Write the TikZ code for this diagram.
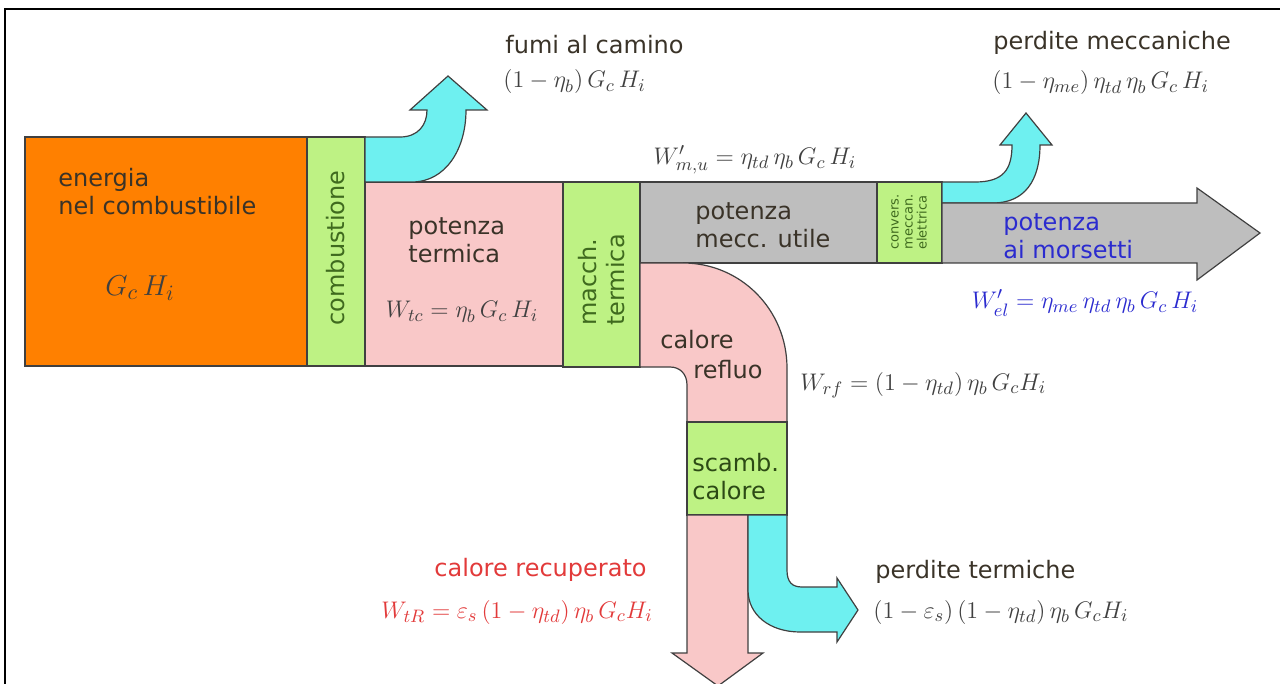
\documentclass[tikz,border=0pt]{standalone}
\usepackage{fontspec}
\setmainfont{DejaVu Sans}
\usepackage{amsmath}
\usetikzlibrary{positioning}

\definecolor{fuel}{HTML}{FF8000}
\definecolor{stage}{HTML}{BEF284}
\definecolor{heat}{HTML}{F9C8C8}
\definecolor{mech}{HTML}{BEBEBE}
\definecolor{loss}{HTML}{6EF0F0}
\definecolor{edge}{HTML}{404040}
\definecolor{txtdark}{HTML}{3A3328}
\definecolor{txtgreen}{HTML}{3F6A1E}
\definecolor{txtblue}{HTML}{2B2BCF}
\definecolor{txtred}{HTML}{E23A3A}

\begin{document}
\begin{tikzpicture}[
    x=0.5pt, y=-0.5pt,
    flow/.style={draw=edge, line width=0.6pt},
    lbl/.style={font=\fontsize{12}{14}\selectfont, text=txtdark, align=left, inner sep=0pt},
    stagelbl/.style={lbl, text=txtgreen},
    eq/.style={font=\fontsize{12.5}{14}\selectfont, text=black!75, inner sep=0pt}
]
    \useasboundingbox (0,0) rectangle (1280,684);
    \draw[line width=1.2pt] (5,684) -- (5,9) -- (1280,9);

    % blocks
    \path[flow, fill=fuel] (25,137) rectangle (307,366);
    \path[flow, fill=stage] (307,137) rectangle (365,366);
    \path[flow, fill=heat] (365,182) rectangle (563,366);
    \path[flow, fill=stage] (563,182) rectangle (640,367);
    \path[flow, fill=mech] (640,182) rectangle (877,263);
    \path[flow, fill=stage] (877,182) rectangle (942,263);

    % fumi
    \path[flow, fill=loss] (365,137) -- (400,137) .. controls (418,137) and (427,125) .. (427,110)
        -- (410,110) -- (448,76) -- (487,110) -- (466,110)
        .. controls (466,150) and (445,182) .. (412,182) -- (365,182) -- cycle;
    % perdite meccaniche
    \path[flow, fill=loss] (942,182) -- (975,182) .. controls (1003,182) and (1012,170) .. (1012,145)
        -- (1000,145) -- (1026,113) -- (1052,145) -- (1040,145)
        .. controls (1040,180) and (1025,203) .. (993,203) -- (942,203) -- cycle;
    % potenza ai morsetti
    \path[flow, fill=mech] (942,203) -- (1197,203) -- (1197,188) -- (1260,233)
        -- (1197,280) -- (1197,263) -- (942,263) -- cycle;
    % calore refluo
    \path[flow, fill=heat] (640,263) -- (683,263) .. controls (741,263) and (787,310) .. (787,368)
        -- (787,422) -- (687,422) -- (687,385) .. controls (687,374) and (680,367) .. (670,367)
        -- (640,367) -- cycle;
    \path[flow, fill=stage] (687,422) rectangle (787,515);
    % calore recuperato
    \path[flow, fill=heat] (687,515) -- (748,515) -- (748,653) -- (763,653) -- (718,686)
        -- (672,653) -- (687,653) -- cycle;
    % perdite termiche
    \path[flow, fill=loss] (748,515) -- (787,515) -- (787,570) .. controls (787,582) and (792,587) .. (802,587)
        -- (837,587) -- (837,578) -- (858,610) -- (837,642) -- (837,632) -- (800,632)
        .. controls (770,632) and (748,615) .. (748,590) -- cycle;

    % labels
    \node[lbl, anchor=west] (fuelname) at (58,192) {energia\\nel combustibile};
    \node[eq, font=\fontsize{15}{16}\selectfont] (fuelval) at (140,288) {$G_c\,H_i$};
    \node[stagelbl, rotate=90] (comb) at (336,248) {combustione};
    \node[lbl, anchor=west] (thermname) at (408,240) {potenza\\termica};
    \node[eq] (thermval) at (462,312) {$W_{tc} = \eta_b\,G_c\,H_i$};
    \node[stagelbl, rotate=90] (engine) at (602,280) {macch.\\termica};
    \node[lbl, anchor=west] (mechname) at (695,225) {potenza\\mecc. utile};
    \node[stagelbl, rotate=90, font=\fontsize{6.5}{7}\selectfont] (conv) at (909,222) {convers.\\meccan.\\elettrica};
    \node[lbl, text=txtblue, anchor=west] (elname) at (1003,236) {potenza\\ai morsetti};
    \node[eq, text=txtblue] (elval) at (1085,303) {$W'_{el} = \eta_{me}\,\eta_{td}\,\eta_b\,G_c\,H_i$};
    \node[eq] (mechval) at (755,160) {$W'_{m,u} = \eta_{td}\,\eta_b\,G_c\,H_i$};

    \node[lbl, anchor=west] (fluename) at (505,45) {fumi al camino};
    \node[eq, anchor=west] (flueval) at (503,82) {$(1-\eta_b)\,G_c\,H_i$};
    \node[lbl, anchor=west] (mlossname) at (993,43) {perdite meccaniche};
    \node[eq, anchor=west] (mlossval) at (992,83) {$(1-\eta_{me})\,\eta_{td}\,\eta_b\,G_c\,H_i$};

    \node[lbl] (waste1) at (697,340) {calore};
    \node[lbl] (waste2) at (728,370) {refluo};
    \node[eq, anchor=west] (wasteval) at (800,385) {$W_{rf} = (1-\eta_{td})\,\eta_b\,G_c H_i$};
    \node[lbl, text=txtgreen!70!black, anchor=west] (exch) at (692,477) {scamb.\\calore};

    \node[lbl, text=txtred, anchor=east] (recname) at (647,570) {calore recuperato};
    \node[eq, text=txtred] (recval) at (517,612) {$W_{tR} = \varepsilon_s\,(1-\eta_{td})\,\eta_b\,G_c H_i$};
    \node[lbl, anchor=west] (tlossname) at (875,572) {perdite termiche};
    \node[eq, anchor=west] (tlossval) at (873,612) {$(1-\varepsilon_s)\,(1-\eta_{td})\,\eta_b\,G_c H_i$};
\end{tikzpicture}
\end{document}
